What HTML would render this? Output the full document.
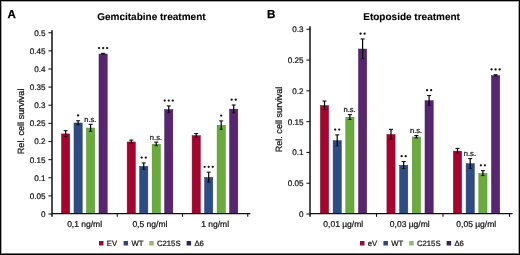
<!DOCTYPE html><html><head><meta charset="utf-8"><style>
html,body{margin:0;padding:0;background:#fff;}
body{width:520px;height:255px;overflow:hidden;position:relative;}
svg{display:block;position:absolute;left:0;top:0;will-change:transform;}
text{font-family:"Liberation Sans", sans-serif;text-rendering:geometricPrecision;}
.r{fill:#111;stroke:#111;stroke-width:0.22px;}
</style></head><body>
<svg width="520" height="255" viewBox="0 0 520 255">
<g>
<text x="7.50" y="17.5" font-size="11.6" font-weight="bold" fill="#000" stroke="#000" stroke-width="0.25">A</text>
<text x="151.40" y="19.5" font-size="10" font-weight="bold" fill="#000" stroke="#000" stroke-width="0.1" text-anchor="middle">Gemcitabine treatment</text>
<line x1="48.40" y1="214.00" x2="52.00" y2="214.00" stroke="#222" stroke-width="1.1"/>
<text x="45.40" y="216.90" font-size="8.1" class="r" text-anchor="end">0</text>
<line x1="48.40" y1="195.88" x2="52.00" y2="195.88" stroke="#222" stroke-width="1.1"/>
<text x="45.40" y="198.78" font-size="8.1" class="r" text-anchor="end">0.05</text>
<line x1="48.40" y1="177.75" x2="52.00" y2="177.75" stroke="#222" stroke-width="1.1"/>
<text x="45.40" y="180.65" font-size="8.1" class="r" text-anchor="end">0.1</text>
<line x1="48.40" y1="159.62" x2="52.00" y2="159.62" stroke="#222" stroke-width="1.1"/>
<text x="45.40" y="162.53" font-size="8.1" class="r" text-anchor="end">0.15</text>
<line x1="48.40" y1="141.50" x2="52.00" y2="141.50" stroke="#222" stroke-width="1.1"/>
<text x="45.40" y="144.40" font-size="8.1" class="r" text-anchor="end">0.2</text>
<line x1="48.40" y1="123.38" x2="52.00" y2="123.38" stroke="#222" stroke-width="1.1"/>
<text x="45.40" y="126.28" font-size="8.1" class="r" text-anchor="end">0.25</text>
<line x1="48.40" y1="105.25" x2="52.00" y2="105.25" stroke="#222" stroke-width="1.1"/>
<text x="45.40" y="108.15" font-size="8.1" class="r" text-anchor="end">0.3</text>
<line x1="48.40" y1="87.12" x2="52.00" y2="87.12" stroke="#222" stroke-width="1.1"/>
<text x="45.40" y="90.02" font-size="8.1" class="r" text-anchor="end">0.35</text>
<line x1="48.40" y1="69.00" x2="52.00" y2="69.00" stroke="#222" stroke-width="1.1"/>
<text x="45.40" y="71.90" font-size="8.1" class="r" text-anchor="end">0.4</text>
<line x1="48.40" y1="50.88" x2="52.00" y2="50.88" stroke="#222" stroke-width="1.1"/>
<text x="45.40" y="53.77" font-size="8.1" class="r" text-anchor="end">0.45</text>
<line x1="48.40" y1="32.75" x2="52.00" y2="32.75" stroke="#222" stroke-width="1.1"/>
<text x="45.40" y="35.65" font-size="8.1" class="r" text-anchor="end">0.5</text>
<text transform="translate(23.70,121.40) rotate(-90)" font-size="9.1" class="r" text-anchor="middle">Rel. cell survival</text>
<rect x="61.50" y="133.92" width="8.20" height="79.28" fill="#a6032f" stroke="#7a0a28" stroke-width="0.5"/>
<line x1="65.60" y1="130.67" x2="65.60" y2="136.68" stroke="#000" stroke-width="1.2"/>
<line x1="63.60" y1="130.67" x2="67.60" y2="130.67" stroke="#111" stroke-width="1.1"/>
<line x1="63.90" y1="136.68" x2="67.30" y2="136.68" stroke="#111" stroke-width="0.9"/>
<rect x="74.00" y="122.99" width="8.20" height="90.21" fill="#2d4c86" stroke="#233a66" stroke-width="0.5"/>
<line x1="78.10" y1="120.75" x2="78.10" y2="124.73" stroke="#000" stroke-width="1.2"/>
<line x1="76.10" y1="120.75" x2="80.10" y2="120.75" stroke="#111" stroke-width="1.1"/>
<line x1="76.40" y1="124.73" x2="79.80" y2="124.73" stroke="#111" stroke-width="0.9"/>
<circle cx="78.10" cy="115.45" r="1.15" fill="#111"/>
<rect x="86.50" y="128.06" width="8.20" height="85.14" fill="#6aab3c" stroke="#4f8a2c" stroke-width="0.5"/>
<line x1="90.60" y1="124.37" x2="90.60" y2="131.25" stroke="#000" stroke-width="1.2"/>
<line x1="88.60" y1="124.37" x2="92.60" y2="124.37" stroke="#111" stroke-width="1.1"/>
<line x1="88.90" y1="131.25" x2="92.30" y2="131.25" stroke="#111" stroke-width="0.9"/>
<text x="90.30" y="121.87" font-size="7.6" class="r" text-anchor="middle">n.s.</text>
<rect x="99.00" y="54.03" width="8.20" height="159.17" fill="#582570" stroke="#3e1a52" stroke-width="0.5"/>
<line x1="103.10" y1="53.34" x2="103.10" y2="54.21" stroke="#000" stroke-width="1.2"/>
<line x1="101.10" y1="53.34" x2="105.10" y2="53.34" stroke="#111" stroke-width="1.1"/>
<line x1="101.40" y1="54.21" x2="104.80" y2="54.21" stroke="#111" stroke-width="0.9"/>
<circle cx="99.05" cy="48.04" r="1.15" fill="#111"/>
<circle cx="103.10" cy="48.04" r="1.15" fill="#111"/>
<circle cx="107.15" cy="48.04" r="1.15" fill="#111"/>
<text x="84.62" y="227.3" font-size="8.5" class="r" text-anchor="middle">0,1 ng/ml</text>
<rect x="127.15" y="141.96" width="8.20" height="71.24" fill="#a6032f" stroke="#7a0a28" stroke-width="0.5"/>
<line x1="131.25" y1="140.11" x2="131.25" y2="143.30" stroke="#000" stroke-width="1.2"/>
<line x1="129.25" y1="140.11" x2="133.25" y2="140.11" stroke="#111" stroke-width="1.1"/>
<line x1="129.55" y1="143.30" x2="132.95" y2="143.30" stroke="#111" stroke-width="0.9"/>
<rect x="139.65" y="166.36" width="8.20" height="46.84" fill="#2d4c86" stroke="#233a66" stroke-width="0.5"/>
<line x1="143.75" y1="162.92" x2="143.75" y2="169.29" stroke="#000" stroke-width="1.2"/>
<line x1="141.75" y1="162.92" x2="145.75" y2="162.92" stroke="#111" stroke-width="1.1"/>
<line x1="142.05" y1="169.29" x2="145.45" y2="169.29" stroke="#111" stroke-width="0.9"/>
<circle cx="141.72" cy="157.62" r="1.15" fill="#111"/>
<circle cx="145.78" cy="157.62" r="1.15" fill="#111"/>
<rect x="152.15" y="144.16" width="8.20" height="69.03" fill="#6aab3c" stroke="#4f8a2c" stroke-width="0.5"/>
<line x1="156.25" y1="142.10" x2="156.25" y2="145.72" stroke="#000" stroke-width="1.2"/>
<line x1="154.25" y1="142.10" x2="158.25" y2="142.10" stroke="#111" stroke-width="1.1"/>
<line x1="154.55" y1="145.72" x2="157.95" y2="145.72" stroke="#111" stroke-width="0.9"/>
<text x="155.95" y="139.60" font-size="7.6" class="r" text-anchor="middle">n.s.</text>
<rect x="164.65" y="109.56" width="8.20" height="103.64" fill="#582570" stroke="#3e1a52" stroke-width="0.5"/>
<line x1="168.75" y1="105.90" x2="168.75" y2="112.71" stroke="#000" stroke-width="1.2"/>
<line x1="166.75" y1="105.90" x2="170.75" y2="105.90" stroke="#111" stroke-width="1.1"/>
<line x1="167.05" y1="112.71" x2="170.45" y2="112.71" stroke="#111" stroke-width="0.9"/>
<circle cx="164.70" cy="100.60" r="1.15" fill="#111"/>
<circle cx="168.75" cy="100.60" r="1.15" fill="#111"/>
<circle cx="172.80" cy="100.60" r="1.15" fill="#111"/>
<text x="149.88" y="227.3" font-size="8.5" class="r" text-anchor="middle">0,5 ng/ml</text>
<rect x="192.10" y="135.66" width="8.20" height="77.54" fill="#a6032f" stroke="#7a0a28" stroke-width="0.5"/>
<line x1="196.20" y1="133.60" x2="196.20" y2="137.22" stroke="#000" stroke-width="1.2"/>
<line x1="194.20" y1="133.60" x2="198.20" y2="133.60" stroke="#111" stroke-width="1.1"/>
<line x1="194.50" y1="137.22" x2="197.90" y2="137.22" stroke="#111" stroke-width="0.9"/>
<rect x="204.60" y="177.40" width="8.20" height="35.80" fill="#2d4c86" stroke="#233a66" stroke-width="0.5"/>
<line x1="208.70" y1="172.15" x2="208.70" y2="182.14" stroke="#000" stroke-width="1.2"/>
<line x1="206.70" y1="172.15" x2="210.70" y2="172.15" stroke="#111" stroke-width="1.1"/>
<line x1="207.00" y1="182.14" x2="210.40" y2="182.14" stroke="#111" stroke-width="0.9"/>
<circle cx="204.65" cy="166.85" r="1.15" fill="#111"/>
<circle cx="208.70" cy="166.85" r="1.15" fill="#111"/>
<circle cx="212.75" cy="166.85" r="1.15" fill="#111"/>
<rect x="217.10" y="125.34" width="8.20" height="87.86" fill="#6aab3c" stroke="#4f8a2c" stroke-width="0.5"/>
<line x1="221.20" y1="120.89" x2="221.20" y2="129.29" stroke="#000" stroke-width="1.2"/>
<line x1="219.20" y1="120.89" x2="223.20" y2="120.89" stroke="#111" stroke-width="1.1"/>
<line x1="219.50" y1="129.29" x2="222.90" y2="129.29" stroke="#111" stroke-width="0.9"/>
<circle cx="221.20" cy="115.59" r="1.15" fill="#111"/>
<rect x="229.60" y="109.16" width="8.20" height="104.04" fill="#582570" stroke="#3e1a52" stroke-width="0.5"/>
<line x1="233.70" y1="105.00" x2="233.70" y2="112.82" stroke="#000" stroke-width="1.2"/>
<line x1="231.70" y1="105.00" x2="235.70" y2="105.00" stroke="#111" stroke-width="1.1"/>
<line x1="232.00" y1="112.82" x2="235.40" y2="112.82" stroke="#111" stroke-width="0.9"/>
<circle cx="231.67" cy="99.70" r="1.15" fill="#111"/>
<circle cx="235.72" cy="99.70" r="1.15" fill="#111"/>
<text x="215.12" y="227.3" font-size="8.5" class="r" text-anchor="middle">1 ng/ml</text>
<line x1="52.00" y1="30.30" x2="52.00" y2="216.80" stroke="#111" stroke-width="1.5"/>
<line x1="52.00" y1="213.60" x2="250.30" y2="213.60" stroke="#111" stroke-width="1.3"/>
<line x1="117.25" y1="213.60" x2="117.25" y2="216.80" stroke="#111" stroke-width="1.1"/>
<line x1="182.50" y1="213.60" x2="182.50" y2="216.80" stroke="#111" stroke-width="1.1"/>
<line x1="247.75" y1="213.60" x2="247.75" y2="216.80" stroke="#111" stroke-width="1.1"/>
<rect x="99.00" y="241" width="4.5" height="4.5" fill="#8e0f38"/>
<text x="106.80" y="245.8" font-size="7.7" class="r">EV</text>
<rect x="123.60" y="241" width="4.5" height="4.5" fill="#2c4677"/>
<text x="131.40" y="245.8" font-size="7.7" class="r">WT</text>
<rect x="149.20" y="241" width="4.5" height="4.5" fill="#8dbb6d"/>
<text x="157.00" y="245.8" font-size="7.7" class="r">C215S</text>
<rect x="186.60" y="241" width="4.5" height="4.5" fill="#3a1f52"/>
<text x="194.40" y="245.8" font-size="7.7" class="r">Δ6</text>
<text x="267.10" y="17.5" font-size="11.6" font-weight="bold" fill="#000" stroke="#000" stroke-width="0.25">B</text>
<text x="411.60" y="19.5" font-size="10" font-weight="bold" fill="#000" stroke="#000" stroke-width="0.1" text-anchor="middle">Etoposide treatment</text>
<line x1="306.40" y1="214.00" x2="310.00" y2="214.00" stroke="#222" stroke-width="1.1"/>
<text x="303.40" y="216.90" font-size="8.1" class="r" text-anchor="end">0</text>
<line x1="306.40" y1="183.22" x2="310.00" y2="183.22" stroke="#222" stroke-width="1.1"/>
<text x="303.40" y="186.12" font-size="8.1" class="r" text-anchor="end">0.05</text>
<line x1="306.40" y1="152.43" x2="310.00" y2="152.43" stroke="#222" stroke-width="1.1"/>
<text x="303.40" y="155.33" font-size="8.1" class="r" text-anchor="end">0.1</text>
<line x1="306.40" y1="121.64" x2="310.00" y2="121.64" stroke="#222" stroke-width="1.1"/>
<text x="303.40" y="124.54" font-size="8.1" class="r" text-anchor="end">0.15</text>
<line x1="306.40" y1="90.86" x2="310.00" y2="90.86" stroke="#222" stroke-width="1.1"/>
<text x="303.40" y="93.76" font-size="8.1" class="r" text-anchor="end">0.2</text>
<line x1="306.40" y1="60.07" x2="310.00" y2="60.07" stroke="#222" stroke-width="1.1"/>
<text x="303.40" y="62.97" font-size="8.1" class="r" text-anchor="end">0.25</text>
<line x1="306.40" y1="29.29" x2="310.00" y2="29.29" stroke="#222" stroke-width="1.1"/>
<text x="303.40" y="32.19" font-size="8.1" class="r" text-anchor="end">0.3</text>
<text transform="translate(281.70,119.50) rotate(-90)" font-size="9.1" class="r" text-anchor="middle">Rel. cell survival</text>
<rect x="320.40" y="105.61" width="8.20" height="107.59" fill="#a6032f" stroke="#7a0a28" stroke-width="0.5"/>
<line x1="324.50" y1="101.05" x2="324.50" y2="109.67" stroke="#000" stroke-width="1.2"/>
<line x1="322.50" y1="101.05" x2="326.50" y2="101.05" stroke="#111" stroke-width="1.1"/>
<line x1="322.80" y1="109.67" x2="326.20" y2="109.67" stroke="#111" stroke-width="0.9"/>
<rect x="333.10" y="140.66" width="8.20" height="72.53" fill="#2d4c86" stroke="#233a66" stroke-width="0.5"/>
<line x1="337.20" y1="134.88" x2="337.20" y2="145.95" stroke="#000" stroke-width="1.2"/>
<line x1="335.20" y1="134.88" x2="339.20" y2="134.88" stroke="#111" stroke-width="1.1"/>
<line x1="335.50" y1="145.95" x2="338.90" y2="145.95" stroke="#111" stroke-width="0.9"/>
<circle cx="335.18" cy="129.58" r="1.15" fill="#111"/>
<circle cx="339.22" cy="129.58" r="1.15" fill="#111"/>
<rect x="345.80" y="117.29" width="8.20" height="95.91" fill="#6aab3c" stroke="#4f8a2c" stroke-width="0.5"/>
<line x1="349.90" y1="114.58" x2="349.90" y2="119.50" stroke="#000" stroke-width="1.2"/>
<line x1="347.90" y1="114.58" x2="351.90" y2="114.58" stroke="#111" stroke-width="1.1"/>
<line x1="348.20" y1="119.50" x2="351.60" y2="119.50" stroke="#111" stroke-width="0.9"/>
<text x="349.60" y="112.08" font-size="7.6" class="r" text-anchor="middle">n.s.</text>
<rect x="358.50" y="49.03" width="8.20" height="164.17" fill="#582570" stroke="#3e1a52" stroke-width="0.5"/>
<line x1="362.60" y1="38.94" x2="362.60" y2="58.62" stroke="#000" stroke-width="1.2"/>
<line x1="360.60" y1="38.94" x2="364.60" y2="38.94" stroke="#111" stroke-width="1.1"/>
<line x1="360.90" y1="58.62" x2="364.30" y2="58.62" stroke="#111" stroke-width="0.9"/>
<circle cx="360.58" cy="33.64" r="1.15" fill="#111"/>
<circle cx="364.62" cy="33.64" r="1.15" fill="#111"/>
<text x="343.25" y="227.3" font-size="8.5" class="r" text-anchor="middle">0,01 µg/ml</text>
<rect x="386.90" y="134.51" width="8.20" height="78.69" fill="#a6032f" stroke="#7a0a28" stroke-width="0.5"/>
<line x1="391.00" y1="129.34" x2="391.00" y2="139.19" stroke="#000" stroke-width="1.2"/>
<line x1="389.00" y1="129.34" x2="393.00" y2="129.34" stroke="#111" stroke-width="1.1"/>
<line x1="389.30" y1="139.19" x2="392.70" y2="139.19" stroke="#111" stroke-width="0.9"/>
<rect x="399.60" y="165.26" width="8.20" height="47.94" fill="#2d4c86" stroke="#233a66" stroke-width="0.5"/>
<line x1="403.70" y1="161.51" x2="403.70" y2="168.52" stroke="#000" stroke-width="1.2"/>
<line x1="401.70" y1="161.51" x2="405.70" y2="161.51" stroke="#111" stroke-width="1.1"/>
<line x1="402.00" y1="168.52" x2="405.40" y2="168.52" stroke="#111" stroke-width="0.9"/>
<circle cx="401.68" cy="156.21" r="1.15" fill="#111"/>
<circle cx="405.72" cy="156.21" r="1.15" fill="#111"/>
<rect x="412.30" y="136.97" width="8.20" height="76.22" fill="#6aab3c" stroke="#4f8a2c" stroke-width="0.5"/>
<line x1="416.40" y1="135.50" x2="416.40" y2="137.95" stroke="#000" stroke-width="1.2"/>
<line x1="414.40" y1="135.50" x2="418.40" y2="135.50" stroke="#111" stroke-width="1.1"/>
<line x1="414.70" y1="137.95" x2="418.10" y2="137.95" stroke="#111" stroke-width="0.9"/>
<text x="416.10" y="133.00" font-size="7.6" class="r" text-anchor="middle">n.s.</text>
<rect x="425.00" y="100.69" width="8.20" height="112.51" fill="#582570" stroke="#3e1a52" stroke-width="0.5"/>
<line x1="429.10" y1="95.52" x2="429.10" y2="105.36" stroke="#000" stroke-width="1.2"/>
<line x1="427.10" y1="95.52" x2="431.10" y2="95.52" stroke="#111" stroke-width="1.1"/>
<line x1="427.40" y1="105.36" x2="430.80" y2="105.36" stroke="#111" stroke-width="0.9"/>
<circle cx="427.08" cy="90.22" r="1.15" fill="#111"/>
<circle cx="431.12" cy="90.22" r="1.15" fill="#111"/>
<text x="409.75" y="227.3" font-size="8.5" class="r" text-anchor="middle">0,03 µg/ml</text>
<rect x="453.40" y="151.12" width="8.20" height="62.08" fill="#a6032f" stroke="#7a0a28" stroke-width="0.5"/>
<line x1="457.50" y1="148.41" x2="457.50" y2="153.33" stroke="#000" stroke-width="1.2"/>
<line x1="455.50" y1="148.41" x2="459.50" y2="148.41" stroke="#111" stroke-width="1.1"/>
<line x1="455.80" y1="153.33" x2="459.20" y2="153.33" stroke="#111" stroke-width="0.9"/>
<rect x="466.10" y="163.73" width="8.20" height="49.47" fill="#2d4c86" stroke="#233a66" stroke-width="0.5"/>
<line x1="470.20" y1="158.56" x2="470.20" y2="168.40" stroke="#000" stroke-width="1.2"/>
<line x1="468.20" y1="158.56" x2="472.20" y2="158.56" stroke="#111" stroke-width="1.1"/>
<line x1="468.50" y1="168.40" x2="471.90" y2="168.40" stroke="#111" stroke-width="0.9"/>
<text x="469.90" y="156.06" font-size="7.6" class="r" text-anchor="middle">n.s.</text>
<rect x="478.80" y="173.38" width="8.20" height="39.82" fill="#6aab3c" stroke="#4f8a2c" stroke-width="0.5"/>
<line x1="482.90" y1="170.67" x2="482.90" y2="175.59" stroke="#000" stroke-width="1.2"/>
<line x1="480.90" y1="170.67" x2="484.90" y2="170.67" stroke="#111" stroke-width="1.1"/>
<line x1="481.20" y1="175.59" x2="484.60" y2="175.59" stroke="#111" stroke-width="0.9"/>
<circle cx="480.88" cy="165.37" r="1.15" fill="#111"/>
<circle cx="484.92" cy="165.37" r="1.15" fill="#111"/>
<rect x="491.50" y="75.60" width="8.20" height="137.60" fill="#582570" stroke="#3e1a52" stroke-width="0.5"/>
<line x1="495.60" y1="74.73" x2="495.60" y2="75.96" stroke="#000" stroke-width="1.2"/>
<line x1="493.60" y1="74.73" x2="497.60" y2="74.73" stroke="#111" stroke-width="1.1"/>
<line x1="493.90" y1="75.96" x2="497.30" y2="75.96" stroke="#111" stroke-width="0.9"/>
<circle cx="491.55" cy="69.43" r="1.15" fill="#111"/>
<circle cx="495.60" cy="69.43" r="1.15" fill="#111"/>
<circle cx="499.65" cy="69.43" r="1.15" fill="#111"/>
<text x="476.25" y="227.3" font-size="8.5" class="r" text-anchor="middle">0,05 µg/ml</text>
<line x1="310.00" y1="26.30" x2="310.00" y2="216.80" stroke="#111" stroke-width="1.5"/>
<line x1="310.00" y1="213.60" x2="512.60" y2="213.60" stroke="#111" stroke-width="1.3"/>
<line x1="376.50" y1="213.60" x2="376.50" y2="216.80" stroke="#111" stroke-width="1.1"/>
<line x1="443.00" y1="213.60" x2="443.00" y2="216.80" stroke="#111" stroke-width="1.1"/>
<line x1="509.50" y1="213.60" x2="509.50" y2="216.80" stroke="#111" stroke-width="1.1"/>
<rect x="360.00" y="241" width="4.5" height="4.5" fill="#8e0f38"/>
<text x="367.80" y="245.8" font-size="7.7" class="r">eV</text>
<rect x="383.40" y="241" width="4.5" height="4.5" fill="#2c4677"/>
<text x="391.20" y="245.8" font-size="7.7" class="r">WT</text>
<rect x="409.20" y="241" width="4.5" height="4.5" fill="#8dbb6d"/>
<text x="417.00" y="245.8" font-size="7.7" class="r">C215S</text>
<rect x="446.60" y="241" width="4.5" height="4.5" fill="#3a1f52"/>
<text x="454.40" y="245.8" font-size="7.7" class="r">Δ6</text>
</g>
<rect x="0.5" y="0.5" width="519" height="254" fill="none" stroke="#000" stroke-width="1"/>
<rect x="1.5" y="1.5" width="517" height="252" fill="none" stroke="#aaa" stroke-width="1"/>
<line x1="1" y1="253.5" x2="519" y2="253.5" stroke="#707070" stroke-width="1"/>
</svg></body></html>
